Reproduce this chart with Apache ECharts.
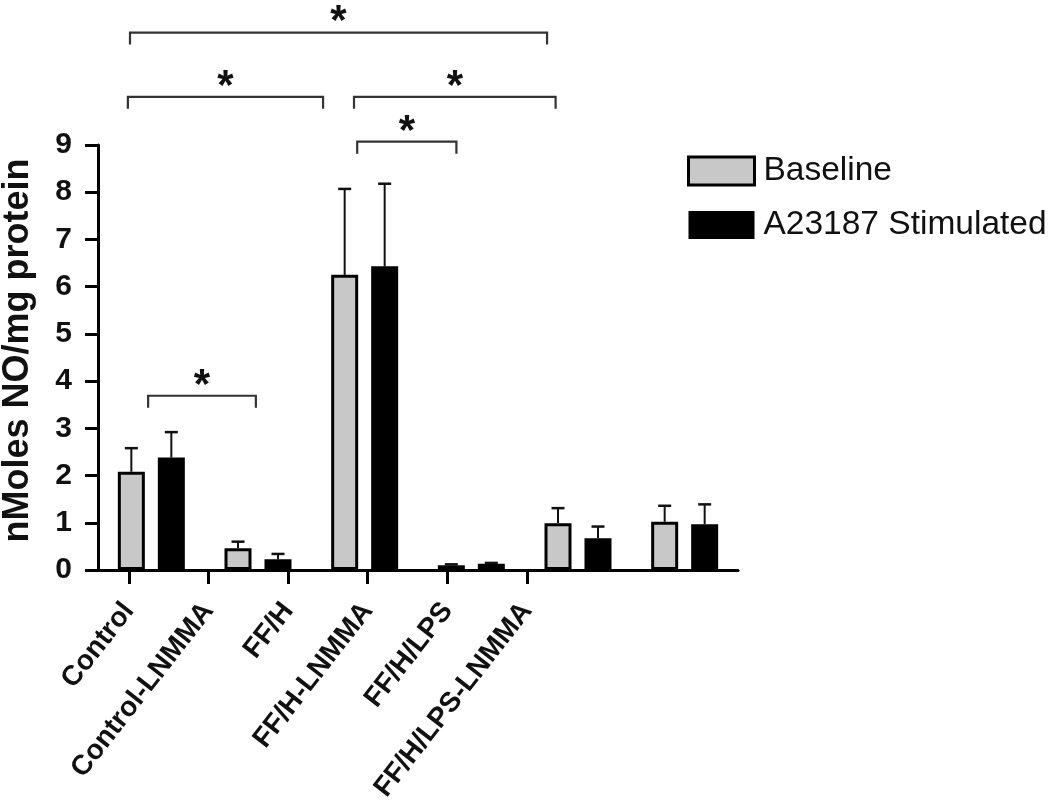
<!DOCTYPE html>
<html>
<head>
<meta charset="utf-8">
<script src="https://cdn.jsdelivr.net/npm/echarts@6/dist/echarts.min.js"></script>
<style>
html,body{margin:0;padding:0;background:#fff;}
#c{width:1050px;height:802px;}
</style>
</head>
<body>
<div id="c"></div>
<script>
// ---- data ----
const categories = ['Control', 'Control-LNMMA', 'FF/H', 'FF/H-LNMMA', 'FF/H/LPS', 'FF/H/LPS-LNMMA'];
const seriesNames = ['Baseline', 'A23187 Stimulated'];
const baselineValues = [2.08, 0.46, 6.25, 0.10, 0.99, 1.02];
const baselineErrors = [0.50, 0.14, 1.82, 0.02, 0.32, 0.34];
const stimulatedValues = [2.38, 0.23, 6.43, 0.13, 0.67, 0.97];
const stimulatedErrors = [0.54, 0.11, 1.75, 0.02, 0.25, 0.42];
const yTicks = [0, 1, 2, 3, 4, 5, 6, 7, 8, 9];
// significance brackets: [start (category units), end (category units), level (y units)]
const bracketStart = [0.30, 0.28, 2.40, 2.43, 0.47];
const bracketEnd   = [4.21, 2.11, 4.29, 3.36, 1.48];
const bracketLevel = [11.38, 10.02, 10.02, 9.07, 3.69];
const bracketMark  = ['*', '*', '*', '*', '*'];
// extra tick slots on the label axis (original figure has offset tick marks)
const labelSlots = categories.concat(['', '']);

// ---- styles ----
const FONT = "'Liberation Sans', Arial, sans-serif";
const GRAY = '#c8c8c8';
const BAR_W = 27;
const GAP_PX = 13;
const OFFSET = (BAR_W + GAP_PX) / 2;

const chart = echarts.init(document.getElementById('c'), null, {renderer: 'canvas'});

function errorItem(sign) {
  return function (params, api) {
    const i = api.value(0);
    const v = api.value(1);
    const e = api.value(2);
    const p0 = api.coord([i, v]);
    const p1 = api.coord([i, v + e]);
    const x = p0[0] + sign * OFFSET;
    return {
      type: 'group',
      children: [
        {type: 'line', shape: {x1: x, y1: p0[1], x2: x, y2: p1[1]}, style: {stroke: '#111', lineWidth: 2}},
        {type: 'line', shape: {x1: x - 6.5, y1: p1[1], x2: x + 6.5, y2: p1[1]}, style: {stroke: '#111', lineWidth: 2.5}}
      ]
    };
  };
}

const baselineErrData = baselineValues.map((v, i) => [i, v, baselineErrors[i]]);
const stimErrData = stimulatedValues.map((v, i) => [i, v, stimulatedErrors[i]]);
const bracketData = bracketStart.map((s, i) => [s, bracketLevel[i], bracketEnd[i], i]);

const option = {
  animation: false,
  backgroundColor: '#fff',
  textStyle: {fontFamily: FONT},
  grid: [
    {left: 98, right: 312, top: 145, bottom: 232, containLabel: false, outerBoundsMode: 'none'},
    {left: 89, right: 324, top: 145, bottom: 232, containLabel: false, outerBoundsMode: 'none'}
  ],
  legend: {
    orient: 'vertical',
    left: 682,
    top: 149,
    itemWidth: 66,
    itemHeight: 28,
    itemGap: 20,
    icon: 'rect',
    textStyle: {fontSize: 33.5, color: '#111', fontFamily: FONT, padding: [0, 0, 0, 4]},
    data: [
      {name: seriesNames[0], itemStyle: {color: GRAY, borderColor: '#000', borderWidth: 3}},
      {name: seriesNames[1], itemStyle: {color: '#000', borderColor: '#000', borderWidth: 0}}
    ]
  },
  xAxis: [
    {
      type: 'category', gridIndex: 0, data: categories,
      axisLine: {show: true, lineStyle: {color: '#000', width: 3}},
      axisTick: {show: false}, axisLabel: {show: false}, splitLine: {show: false}
    },
    {
      type: 'value', gridIndex: 0, min: 0, max: categories.length, show: false
    },
    {
      type: 'category', gridIndex: 1, data: labelSlots,
      axisLine: {show: true, lineStyle: {color: '#000', width: 3}},
      axisTick: {show: true, alignWithLabel: true, length: 14, lineStyle: {color: '#000', width: 3},
        interval: function (index) { return index < categories.length; }},
      axisLabel: {interval: 0, rotate: 52, fontSize: 28, fontWeight: 'bold', color: '#111', fontFamily: FONT, margin: 36}
    }
  ],
  yAxis: [
    {
      type: 'value', gridIndex: 0, min: 0, max: 9, interval: 1,
      axisLine: {show: true, lineStyle: {color: '#000', width: 3}},
      axisTick: {show: true, length: 13, lineStyle: {color: '#000', width: 3}},
      axisLabel: {fontSize: 30, fontWeight: 'bold', color: '#111', fontFamily: FONT, margin: 26,
        formatter: function (v) { return yTicks.indexOf(v) >= 0 ? String(v) : ''; }},
      splitLine: {show: false},
      name: 'nMoles NO/mg protein',
      nameLocation: 'middle',
      nameGap: 62,
      nameRotate: 90,
      nameTextStyle: {fontSize: 36, fontWeight: 'bold', color: '#111', fontFamily: FONT, padding: [0, 0, 0, 14]}
    },
    {type: 'value', gridIndex: 1, min: 0, max: 9, show: false}
  ],
  series: [
    {
      name: seriesNames[0], type: 'bar', xAxisIndex: 0, yAxisIndex: 0,
      data: baselineValues, barWidth: BAR_W, barGap: (GAP_PX / BAR_W * 100).toFixed(1) + '%',
      itemStyle: {color: GRAY, borderColor: '#000', borderWidth: 3}
    },
    {
      name: seriesNames[1], type: 'bar', xAxisIndex: 0, yAxisIndex: 0,
      data: stimulatedValues, barWidth: BAR_W,
      itemStyle: {color: '#000', borderColor: '#000', borderWidth: 3}
    },
    {
      type: 'custom', xAxisIndex: 0, yAxisIndex: 0, z: 5,
      data: baselineErrData, renderItem: errorItem(-1), silent: true
    },
    {
      type: 'custom', xAxisIndex: 0, yAxisIndex: 0, z: 5,
      data: stimErrData, renderItem: errorItem(1), silent: true
    },
    {
      type: 'custom', xAxisIndex: 1, yAxisIndex: 0, z: 6, clip: false, silent: true,
      data: bracketData,
      renderItem: function (params, api) {
        const s = api.value(0), lvl = api.value(1), e = api.value(2), idx = api.value(3);
        const a = api.coord([s, lvl]);
        const b = api.coord([e, lvl]);
        const drop = 12;
        const mid = (a[0] + b[0]) / 2;
        const fs = 42;
        return {
          type: 'group',
          children: [
            {type: 'polyline', shape: {points: [[a[0], a[1] + drop], [a[0], a[1]], [b[0], b[1]], [b[0], b[1] + drop]]},
              style: {stroke: '#333', lineWidth: 2.2, fill: null}},
            {type: 'text', x: mid, y: a[1] - 19 + 0.22 * fs,
              style: {text: bracketMark[idx], fontSize: fs, fontWeight: 'bold', fontFamily: FONT, fill: '#111',
                align: 'center', verticalAlign: 'middle'}}
          ]
        };
      }
    }
  ]
};
chart.setOption(option);
</script>
</body>
</html>
